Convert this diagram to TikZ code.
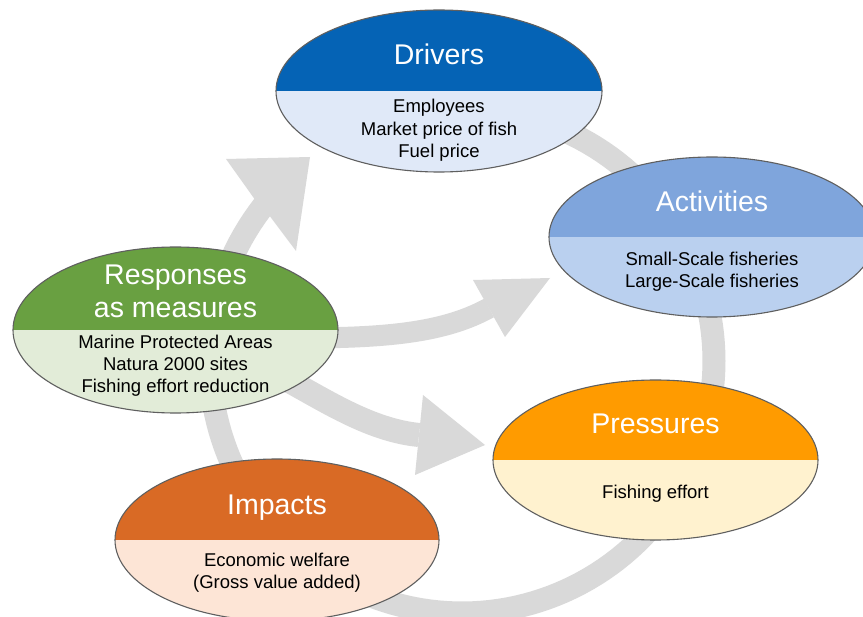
\documentclass[tikz,border=0pt]{standalone}
\usepackage{fontspec}
\setmainfont{Liberation Sans}
\usetikzlibrary{shapes.geometric}
\definecolor{flowgray}{HTML}{D9D9D9}
\definecolor{rimgray}{HTML}{5F5F5F}
\definecolor{drvTop}{HTML}{0563B5}
\definecolor{drvBot}{HTML}{E0E9F8}
\definecolor{actTop}{HTML}{7FA5DC}
\definecolor{actBot}{HTML}{BAD0EF}
\definecolor{rspTop}{HTML}{69A041}
\definecolor{rspBot}{HTML}{E2ECD8}
\definecolor{prsTop}{HTML}{FF9B00}
\definecolor{prsBot}{HTML}{FFF2CF}
\definecolor{impTop}{HTML}{D96A25}
\definecolor{impBot}{HTML}{FDE5D6}
\begin{document}
\begin{tikzpicture}[x=1pt,y=-1pt,
  flow/.style={fill=flowgray},
  shaft/.style={draw=flowgray, line cap=butt},
  block/.style 2 args={ellipse, draw=rimgray, line width=1.1pt, inner sep=0pt,
    minimum width=326pt, minimum height=162pt,
    path picture={
      \fill[#1] (path picture bounding box.north west) rectangle (path picture bounding box.east);
      \fill[#2] (path picture bounding box.west) rectangle (path picture bounding box.south east);
    }},
  ttl/.style={text=white, font=\fontsize{28.5}{32}\selectfont, anchor=base, inner sep=0pt},
  lst/.style={text=black, font=\fontsize{18.5}{22.5}\selectfont, anchor=base, inner sep=0pt},
]
\useasboundingbox (0,0) rectangle (863,617);
\fill[white] (0,0) rectangle (863,617);
\clip (0,0) rectangle (863,617);

% ring of the cycle, ending in the head that points at Drivers
\fill[flow]
  plot[domain=-80:218, samples=150] ({462+263.5*cos(\x)},{361+263.5*sin(\x)})
  -- (226,159) -- (310,157) -- (296,251)
  -- plot[domain=217:-80, samples=150] ({462+240.5*cos(\x)},{361+240.5*sin(\x)})
  -- cycle;

% arrow from Responses towards Activities
\coordinate (ra-s) at (300,338);
\coordinate (ra-e) at (489,308);
\draw[shaft, line width=21pt] (ra-s) .. controls (390,338) and (445,332) .. (ra-e);
\fill[flow] (473,280) -- (550,278) -- (505,337) -- cycle;

% arrow from Responses towards Pressures
\coordinate (rp-s) at (280,376);
\coordinate (rp-e) at (419,435);
\draw[shaft, line width=24pt] (rp-s) .. controls (324,399.5) and (369,430) .. (rp-e);
\fill[flow] (423,395) -- (485,445) -- (415,475) -- cycle;

% the five DPSIR blocks
\node[block={drvTop}{drvBot}] (drv) at (439,91) {};
\node[block={actTop}{actBot}, minimum height=160pt] (act) at (712,237) {};
\node[block={rspTop}{rspBot}, minimum width=325pt, minimum height=166pt] (rsp) at (175.5,330) {};
\node[block={prsTop}{prsBot}, minimum width=325pt, minimum height=160pt] (prs) at (655.5,460) {};
\node[block={impTop}{impBot}, minimum width=324pt] (imp) at (277,540) {};

% Drivers
\node[ttl] (drv-t) at (439,65) {Drivers};
\node[lst] (drv-1) at (439,113) {Employees};
\node[lst] (drv-2) at (439,135.5) {Market price of fish};
\node[lst] (drv-3) at (439,158) {Fuel price};

% Activities
\node[ttl] (act-t) at (712,211.5) {Activities};
\node[lst] (act-1) at (712,265.5) {Small-Scale fisheries};
\node[lst] (act-2) at (712,287.5) {Large-Scale fisheries};

% Responses
\node[ttl] (rsp-t1) at (175.5,285) {Responses};
\node[ttl] (rsp-t2) at (175.5,317.5) {as measures};
\node[lst] (rsp-1) at (175.5,348.5) {Marine Protected Areas};
\node[lst] (rsp-2) at (175.5,370.5) {Natura 2000 sites};
\node[lst] (rsp-3) at (175.5,392.5) {Fishing effort reduction};

% Pressures
\node[ttl] (prs-t) at (655.5,433.5) {Pressures};
\node[lst] (prs-1) at (655.5,498.5) {Fishing effort};

% Impacts
\node[ttl] (imp-t) at (277,514.5) {Impacts};
\node[lst] (imp-1) at (277,567) {Economic welfare};
\node[lst] (imp-2) at (277,589) {(Gross value added)};
\end{tikzpicture}
\end{document}
